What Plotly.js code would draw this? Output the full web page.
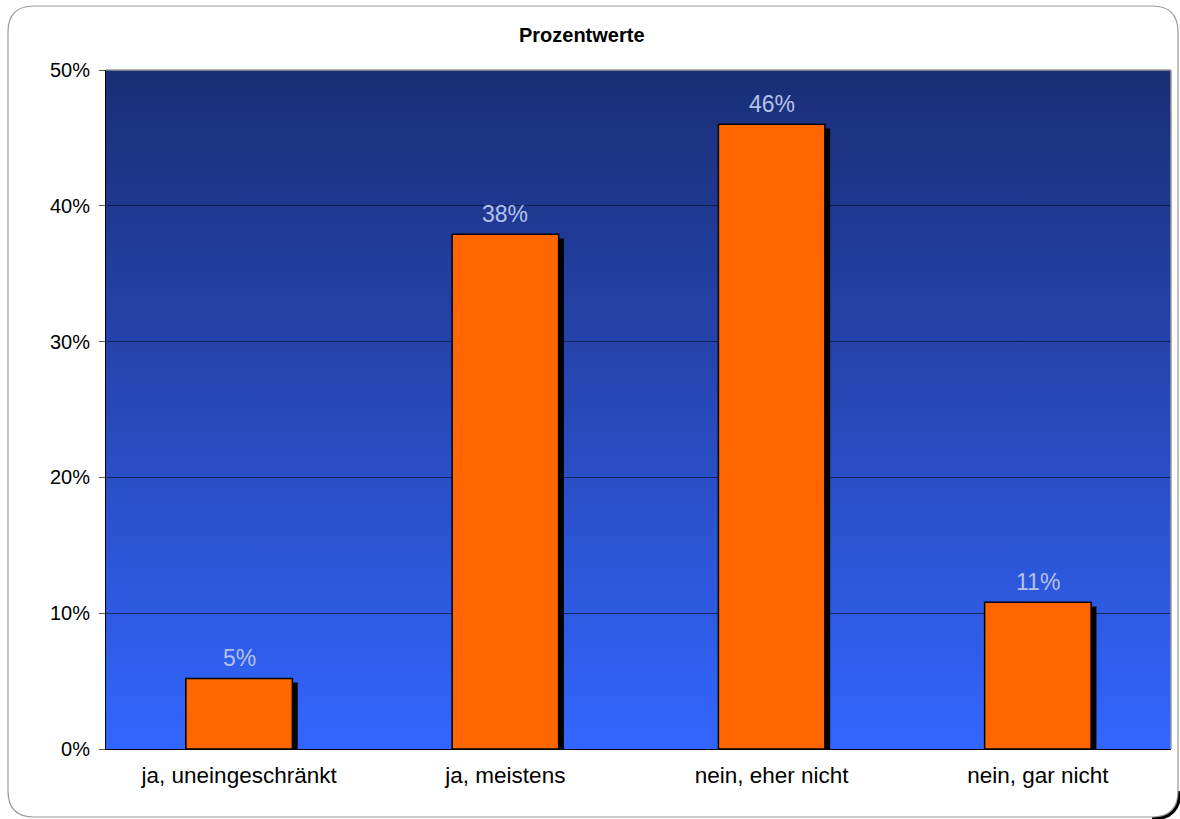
<!DOCTYPE html>
<html>
<head>
<meta charset="utf-8">
<script src="https://cdn.plot.ly/plotly-3.0.1.min.js"></script>
<style>
html,body{margin:0;padding:0;background:#fff;}
#chart{width:1180px;height:819px;}
</style>
</head>
<body>
<div id="chart"></div>
<script>
const categories = ["ja, uneingeschränkt", "ja, meistens", "nein, eher nicht", "nein, gar nicht"];
const values = [5.2, 37.9, 46.0, 10.8];
const chartTitle = "Prozentwerte";

const FONT = "Liberation Sans, Arial, sans-serif";
const barWidth = 0.4;

const gradSvg = '<svg xmlns="http://www.w3.org/2000/svg" width="100" height="100" preserveAspectRatio="none">' +
  '<defs><linearGradient id="g" x1="0" y1="0" x2="0" y2="1">' +
  '<stop offset="0" stop-color="#1a2e76"/>' +
  '<stop offset="0.5" stop-color="#2749b8"/>' +
  '<stop offset="1" stop-color="#3366ff"/>' +
  '</linearGradient></defs><rect width="100" height="100" fill="url(#g)"/></svg>';
const gradUri = 'data:image/svg+xml;base64,' + btoa(gradSvg);

const shadow = {
  type: 'bar', x: categories, y: values, base: -0.3,
  width: barWidth, offset: -barWidth / 2 + 0.02,
  marker: {color: '#000000', line: {width: 0}},
  hoverinfo: 'skip', showlegend: false
};
const bars = {
  type: 'bar', x: categories, y: values,
  width: barWidth, offset: -barWidth / 2,
  marker: {color: '#ff6600', line: {color: '#000000', width: 1.5}},
  showlegend: false
};

const labelAnnotations = categories.map((c, i) => ({
  x: c, y: values[i], xref: 'x', yref: 'y',
  text: Math.round(values[i]) + '%', showarrow: false,
  xanchor: 'center', yanchor: 'bottom', yshift: 5,
  font: {family: FONT, size: 23, color: '#b3c2ea'}
}));

// rounded border in paper coordinates
const L = 106, R = 9, T = 70, B = 70, W = 1180, H = 819;
const pw = W - L - R, ph = H - T - B;
function px(x) { return (x - L) / pw; }
function py(y) { return (H - B - y) / ph; }
function roundRect(x0, y0, x1, y1, r) {
  return `M ${px(x0 + r)} ${py(y0)} L ${px(x1 - r)} ${py(y0)} Q ${px(x1)} ${py(y0)} ${px(x1)} ${py(y0 + r)} ` +
    `L ${px(x1)} ${py(y1 - r)} Q ${px(x1)} ${py(y1)} ${px(x1 - r)} ${py(y1)} ` +
    `L ${px(x0 + r)} ${py(y1)} Q ${px(x0)} ${py(y1)} ${px(x0)} ${py(y1 - r)} ` +
    `L ${px(x0)} ${py(y0 + r)} Q ${px(x0)} ${py(y0)} ${px(x0 + r)} ${py(y0)} Z`;
}
function cornerBR(x1, y1, r) {
  return `M ${px(x1 + 2)} ${py(y1 - r)} Q ${px(x1 + 2)} ${py(y1 + 2)} ${px(x1 - r)} ${py(y1 + 2)}`;
}

const layout = {
  width: W, height: H,
  margin: {l: L, r: R, t: T, b: B},
  paper_bgcolor: '#ffffff',
  plot_bgcolor: '#2a50d0',
  barmode: 'overlay',
  font: {family: FONT, color: '#000000'},
  title: {text: '<b>' + chartTitle + '</b>', font: {family: FONT, size: 20, color: '#000'},
          x: 0.493, xref: 'container', y: 0.957, yref: 'container', xanchor: 'center', yanchor: 'middle'},
  xaxis: {
    type: 'category', showgrid: false, zeroline: false,
    showline: true, linecolor: '#000', linewidth: 1,
    ticks: '', tickfont: {family: FONT, size: 22.5, color: '#000'},
    ticklabelstandoff: 6, fixedrange: true
  },
  yaxis: {
    range: [0, 50], dtick: 10, ticksuffix: '%',
    showgrid: true, gridcolor: 'rgba(10,20,60,0.75)', gridwidth: 1,
    zeroline: false, showline: true, linecolor: '#000', linewidth: 1,
    ticks: 'outside', ticklen: 6, tickcolor: '#555',
    tickfont: {family: FONT, size: 20, color: '#000'},
    ticklabelstandoff: 5, fixedrange: true
  },
  annotations: labelAnnotations,
  images: [{source: gradUri, xref: 'paper', yref: 'paper', x: 0, y: 1, sizex: 1, sizey: 1,
            sizing: 'stretch', xanchor: 'left', yanchor: 'top', layer: 'below'}],
  shapes: [
    {type: 'line', xref: 'paper', yref: 'paper', x0: 0, x1: 1, y0: 1, y1: 1, line: {color: '#999', width: 1.5}},
    {type: 'line', xref: 'paper', yref: 'paper', x0: 1, x1: 1, y0: 0, y1: 1, line: {color: '#999', width: 1.5}},
    {type: 'path', xref: 'paper', yref: 'paper', path: roundRect(8, 6, 1178, 817, 26), line: {color: '#999', width: 1.2}},
    {type: 'path', xref: 'paper', yref: 'paper', path: cornerBR(1178, 817, 26), line: {color: '#000', width: 3}}
  ]
};

Plotly.newPlot('chart', [shadow, bars], layout, {displayModeBar: false, staticPlot: true});
</script>
</body>
</html>
